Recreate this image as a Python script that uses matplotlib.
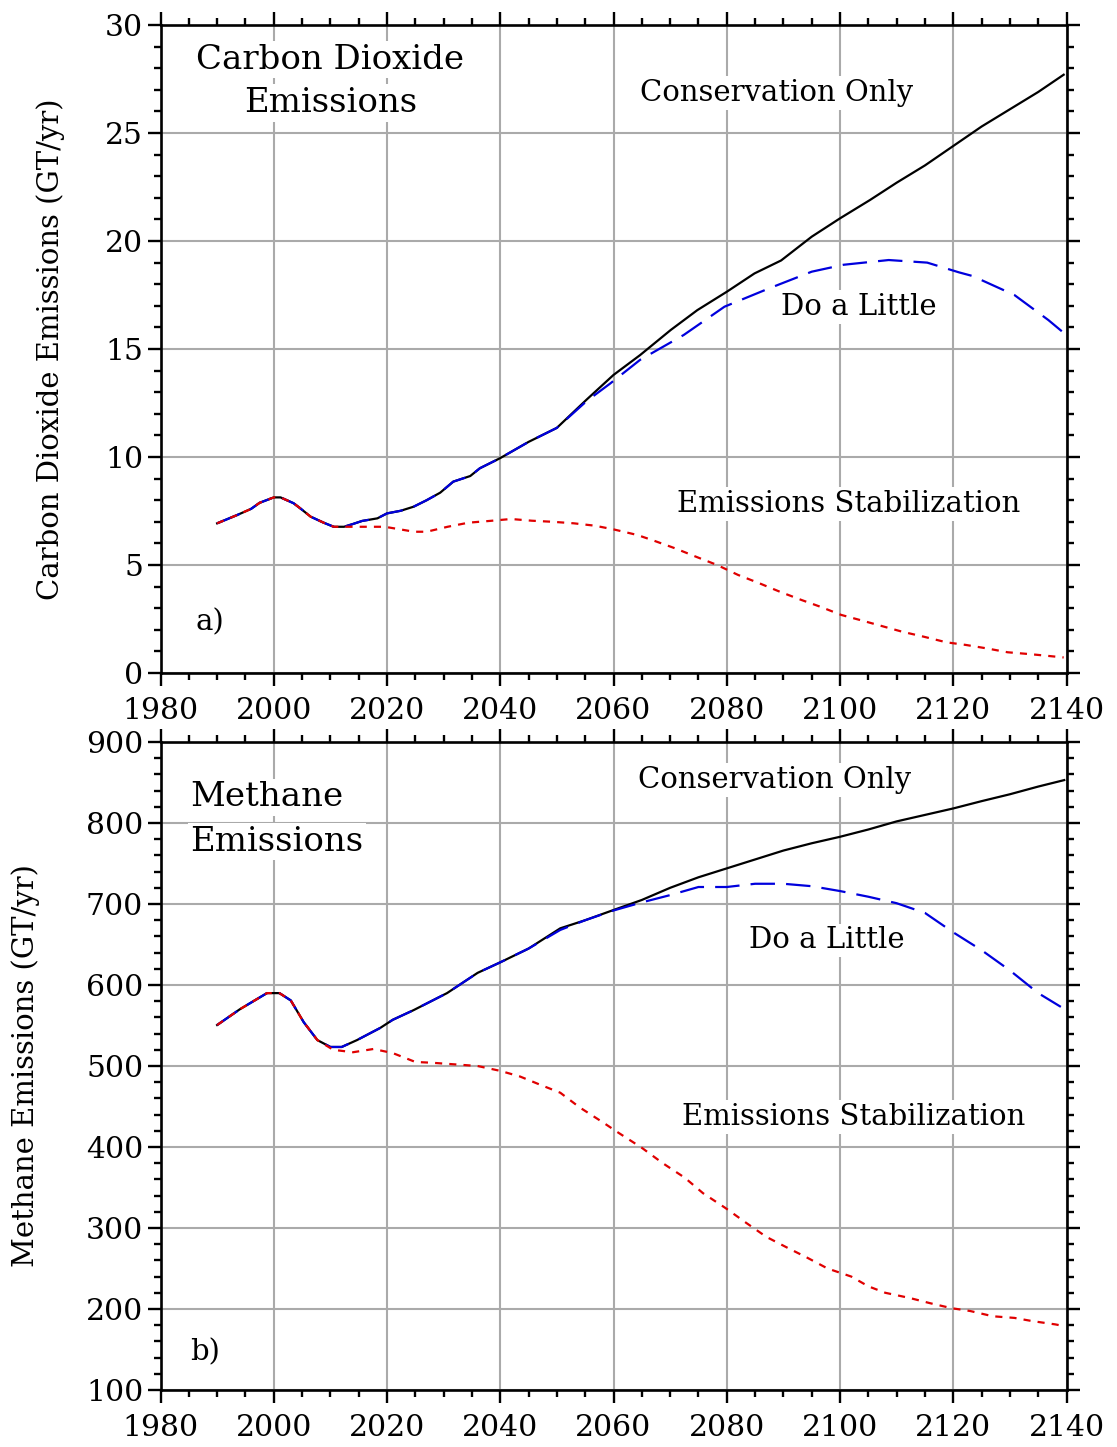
import matplotlib
matplotlib.use("Agg")
import matplotlib.pyplot as plt
from matplotlib.ticker import MultipleLocator

plt.rcParams['font.family'] = ['DejaVu Serif']

# ---------------- data: CO2 (GT/yr) ----------------
co2_cons_years = [1990, 1993.5, 1996, 1997.5, 2000, 2001.2, 2003.5, 2004.7, 2006.5, 2008.8,
                  2010.6, 2012.4, 2014, 2015.6, 2018.3, 2020, 2022.4, 2024.7, 2027, 2029.4,
                  2031.7, 2034.7, 2036.4, 2040, 2045, 2050, 2055.3, 2060, 2064.7, 2070.1,
                  2074.8, 2080, 2084.9, 2089.6, 2095, 2100, 2105.3, 2110, 2115, 2120,
                  2125, 2130, 2135, 2139.5]
co2_cons = [6.93, 7.31, 7.6, 7.88, 8.13, 8.13, 7.86, 7.62, 7.24, 6.96,
            6.77, 6.77, 6.9, 7.04, 7.16, 7.39, 7.51, 7.7, 8.0, 8.35,
            8.86, 9.12, 9.48, 9.95, 10.7, 11.35, 12.67, 13.8, 14.72, 15.88,
            16.8, 17.65, 18.5, 19.1, 20.2, 21.05, 21.9, 22.7, 23.5, 24.4,
            25.3, 26.1, 26.9, 27.7]

co2_little_years = [1990, 1993.5, 1996, 1997.5, 2000, 2001.2, 2003.5, 2004.7, 2006.5, 2008.8,
                    2010.6, 2012.4, 2014, 2015.6, 2018.3, 2020, 2022.4, 2024.7, 2027, 2029.4,
                    2031.7, 2034.7, 2036.4, 2040, 2045, 2050, 2055.3, 2059.4, 2064.7, 2072.4,
                    2079.6, 2087.4, 2095, 2100.6, 2108.6, 2115.4, 2121, 2123.4, 2130.8, 2136.8,
                    2139.5]
co2_little = [6.93, 7.31, 7.6, 7.88, 8.13, 8.13, 7.86, 7.62, 7.24, 6.96,
              6.77, 6.77, 6.9, 7.04, 7.16, 7.39, 7.51, 7.7, 8.0, 8.35,
              8.86, 9.12, 9.48, 9.95, 10.7, 11.35, 12.6, 13.4, 14.5, 15.65,
              16.96, 17.8, 18.58, 18.9, 19.12, 19.0, 18.55, 18.38, 17.5, 16.34,
              15.75]

co2_stab_years = [1990, 1993.5, 1996, 1997.5, 2000, 2001.2, 2003.5, 2004.7, 2006.5, 2008.8,
                  2010.6, 2014, 2019.6, 2024.8, 2027, 2030.7, 2034.4, 2038.1, 2041.9, 2045.6,
                  2049.3, 2053, 2056.7, 2060, 2064.2, 2067.1, 2070.9, 2074.6, 2078.3, 2082,
                  2085.8, 2089.4, 2093.2, 2096.5, 2100.2, 2104, 2107.3, 2111, 2114.8, 2118.8,
                  2122.2, 2125.9, 2129.6, 2133.7, 2139.5]
co2_stab = [6.93, 7.31, 7.6, 7.88, 8.13, 8.13, 7.86, 7.62, 7.24, 6.96,
            6.77, 6.77, 6.77, 6.54, 6.54, 6.77, 6.96, 7.04, 7.13, 7.05,
            7.0, 6.93, 6.82, 6.65, 6.39, 6.13, 5.77, 5.38, 5.0, 4.54,
            4.15, 3.76, 3.38, 3.07, 2.69, 2.42, 2.18, 1.91, 1.68, 1.42,
            1.30, 1.14, 0.96, 0.87, 0.72]

# ---------------- data: Methane ----------------
ch4_cons_years = [1990, 1994, 1998.8, 2001, 2003, 2005.3, 2007.7, 2010, 2012, 2014.7,
                  2018.8, 2021, 2024.7, 2030.6, 2036, 2040, 2045, 2050.6, 2055, 2060,
                  2065, 2070, 2075, 2080, 2085, 2090, 2095, 2100, 2105, 2110,
                  2115, 2120, 2125, 2130, 2135, 2139.6]
ch4_cons = [550.6, 570, 590, 590, 581, 554, 532, 523.5, 523.5, 532,
            547, 557, 569, 590, 615, 628, 645, 670, 680, 692.6,
            705, 720, 733, 744, 755, 766, 775, 783, 792, 802,
            810, 818, 827, 835.5, 845, 853]

ch4_little_years = [1990, 1994, 1998.8, 2001, 2003, 2005.3, 2007.7, 2010, 2012, 2014.7,
                    2018.8, 2021, 2024.7, 2030.6, 2036, 2040, 2045, 2050.6, 2055, 2060,
                    2065, 2070, 2075, 2080, 2085, 2090, 2095, 2100, 2105, 2110,
                    2115, 2120, 2125, 2130, 2135, 2139]
ch4_little = [550.6, 570, 590, 590, 581, 554, 532, 523.5, 523.5, 532,
              547, 557, 569, 590, 615, 628, 645, 668, 680, 692,
              702, 711, 721, 721, 725, 725, 722, 716, 709, 701,
              689, 665, 643, 618, 590, 573]

ch4_stab_years = [1990, 1994, 1998.8, 2001, 2003, 2005.3, 2007.7, 2010.5, 2014, 2017.6,
                  2021, 2025, 2028, 2032, 2036, 2040, 2043.5, 2047, 2050.6, 2054,
                  2058, 2061, 2065, 2068.7, 2072.6, 2075.8, 2079.7, 2083.5, 2087, 2090.6,
                  2094.3, 2097.8, 2102, 2105, 2108, 2112.3, 2116, 2119.7, 2123, 2127,
                  2130.8, 2134, 2138, 2139.5]
ch4_stab = [550.6, 570, 590, 590, 581, 554, 532, 520, 517, 521,
            516, 505, 504, 502, 500, 494, 487, 477, 467, 449,
            431, 417, 399, 380, 362, 343, 325, 306, 289, 276,
            263, 250, 240, 228, 220, 213.6, 207, 201, 197.5, 191,
            189, 185, 181, 179]

x_ticks = [1980, 2000, 2020, 2040, 2060, 2080, 2100, 2120, 2140]

BLACK = '#000000'
BLUE = '#0000dd'
RED = '#e00000'
GRID = '#aaaaaa'

fig = plt.figure(figsize=(11.17, 14.47), dpi=100)
ax1 = fig.add_axes([0.1437, 0.5349, 0.8111, 0.4478])
ax2 = fig.add_axes([0.1437, 0.0394, 0.8111, 0.4478])

TICK_FS = 21.5
TXT_FS = 21
TITLE_FS = 24.5
LAB_FS = 21

def style(ax, ymin, ymax, ymaj, ymin_step):
    ax.set_xlim(1980, 2140)
    ax.set_ylim(ymin, ymax)
    ax.set_xticks(x_ticks)
    ax.xaxis.set_minor_locator(MultipleLocator(5))
    ax.yaxis.set_major_locator(MultipleLocator(ymaj))
    ax.yaxis.set_minor_locator(MultipleLocator(ymin_step))
    ax.tick_params(which='both', direction='out', top=True, right=True,
                   width=1.7, labelsize=TICK_FS)
    ax.tick_params(which='major', length=9.5)
    ax.tick_params(which='minor', length=5)
    ax.tick_params(axis='x', which='major', pad=8)
    ax.tick_params(axis='y', which='major', pad=3)
    for s in ax.spines.values():
        s.set_linewidth(1.9)
    ax.grid(True, which='major', color=GRID, lw=1.5)
    ax.set_axisbelow(True)

bb = dict(facecolor='white', edgecolor='none', pad=2)

# ---------------- top panel ----------------
style(ax1, 0, 30, 5, 1)
ax1.plot(co2_cons_years, co2_cons, color=BLACK, lw=1.6, zorder=3)
ax1.plot(co2_little_years, co2_little, color=BLUE, lw=1.6, dashes=(11, 5), zorder=4)
ax1.plot(co2_stab_years, co2_stab, color=RED, lw=1.6, dashes=(3.2, 3.2), zorder=5)
ax1.set_ylabel('Carbon Dioxide Emissions (GT/yr)', fontsize=LAB_FS)
ax1.yaxis.set_label_coords(-0.105, 0.5)

ax1.text(2010, 28.4, 'Carbon Dioxide', fontsize=TITLE_FS, ha='center', va='center', bbox=bb, zorder=6)
ax1.text(2010, 26.4, 'Emissions', fontsize=TITLE_FS, ha='center', va='center', bbox=bb, zorder=6)
ax1.text(2088.8, 26.85, 'Conservation Only', fontsize=TXT_FS, ha='center', va='center', bbox=bb, zorder=6)
ax1.text(2103.3, 16.94, 'Do a Little', fontsize=TXT_FS, ha='center', va='center', bbox=bb, zorder=6)
ax1.text(2101.5, 7.82, 'Emissions Stabilization', fontsize=TXT_FS, ha='center', va='center', bbox=bb, zorder=6)
ax1.text(1988.8, 2.36, 'a)', fontsize=TXT_FS, ha='center', va='center', zorder=6)

# ---------------- bottom panel ----------------
style(ax2, 100, 900, 100, 20)
ax2.plot(ch4_cons_years, ch4_cons, color=BLACK, lw=1.6, zorder=3)
ax2.plot(ch4_little_years, ch4_little, color=BLUE, lw=1.6, dashes=(11, 5), zorder=4)
ax2.plot(ch4_stab_years, ch4_stab, color=RED, lw=1.6, dashes=(3.2, 3.2), zorder=5)
ax2.set_ylabel('Methane Emissions (GT/yr)', fontsize=LAB_FS)
ax2.yaxis.set_label_coords(-0.133, 0.5)

ax2.text(1985.3, 831.8, 'Methane', fontsize=TITLE_FS, ha='left', va='center', bbox=bb, zorder=6)
ax2.text(1985.3, 777, 'Emissions', fontsize=TITLE_FS, ha='left', va='center', bbox=bb, zorder=6)
ax2.text(2088.4, 852.8, 'Conservation Only', fontsize=TXT_FS, ha='center', va='center', bbox=bb, zorder=6)
ax2.text(2097.6, 655, 'Do a Little', fontsize=TXT_FS, ha='center', va='center', bbox=bb, zorder=6)
ax2.text(2102.4, 437.5, 'Emissions Stabilization', fontsize=TXT_FS, ha='center', va='center', bbox=bb, zorder=6)
ax2.text(1987.8, 147, 'b)', fontsize=TXT_FS, ha='center', va='center', zorder=6)

fig.savefig('out.png', dpi=100)
